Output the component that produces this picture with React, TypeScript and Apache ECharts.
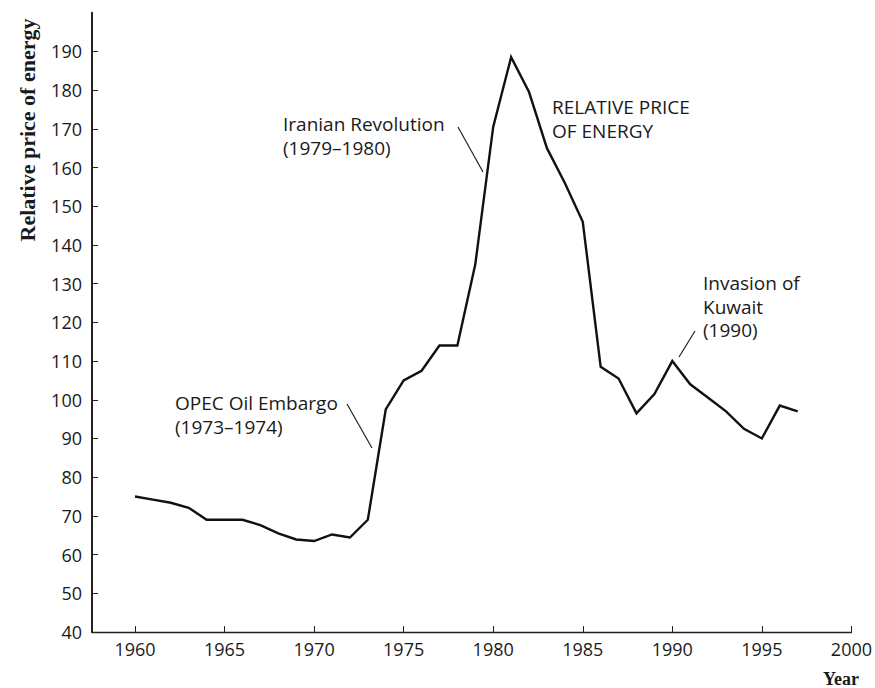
import React, { useEffect, useRef } from "react";
import * as echarts from "echarts";

const years = [1960,1961,1962,1963,1964,1965,1966,1967,1968,1969,1970,1971,1972,1973,1974,1975,1976,1977,1978,1979,1980,1981,1982,1983,1984,1985,1986,1987,1988,1989,1990,1991,1992,1993,1994,1995,1996,1997];
const prices = [75,74.2,73.4,72.1,69,69,69,67.6,65.5,63.9,63.5,65.2,64.4,69,97.5,105,107.5,114,114,135,170.5,188.5,179.5,165,156,146,108.5,105.5,96.5,101.5,110,104,100.5,97,92.5,90,98.5,97];
const xTicks = [1960,1965,1970,1975,1980,1985,1990,1995,2000];
const yTicks = [40,50,60,70,80,90,100,110,120,130,140,150,160,170,180,190];
const yAxisTitle = "Relative price of energy";
const xAxisTitle = "Year";
const annotations = [
  { lines: ["OPEC Oil Embargo", "(1973\u20131974)"] },
  { lines: ["Iranian Revolution", "(1979\u20131980)"] },
  { lines: ["RELATIVE PRICE", "OF ENERGY"] },
  { lines: ["Invasion of", "Kuwait", "(1990)"] },
];

const SANS = "'Open Sans', 'Noto Sans', sans-serif";
const SERIF = "'Liberation Serif', 'DejaVu Serif', serif";

export default function App() {
  const ref = useRef<HTMLDivElement>(null);
  useEffect(() => {
    if (!ref.current) return;
    const chart = echarts.init(ref.current, undefined, { renderer: "svg" });
    const textColor = "#1a1a1a";
    const annPos = [
      { x: 175, y: 403 },
      { x: 283, y: 124 },
      { x: 552, y: 107 },
      { x: 703, y: 283 },
    ];
    const lh = 23.5;
    const graphics: any[] = [];
    annotations.forEach((a, i) => {
      a.lines.forEach((t, j) => {
        graphics.push({
          type: "text",
          x: annPos[i].x,
          y: annPos[i].y + j * lh,
          style: {
            text: t,
            fill: textColor,
            font: `19px ${SANS}`,
            textAlign: "left",
            textVerticalAlign: "middle",
          },
        });
      });
    });
    const leaders = [
      [347, 404, 372, 448],
      [458, 127, 483, 172],
      [695, 331, 679, 357],
    ];
    leaders.forEach((l) => {
      graphics.push({
        type: "line",
        shape: { x1: l[0], y1: l[1], x2: l[2], y2: l[3] },
        style: { stroke: "#222", lineWidth: 1.2 },
      });
    });
    graphics.push({
      type: "text",
      x: 27,
      y: 130,
      rotation: Math.PI / 2,
      style: {
        text: yAxisTitle,
        fill: textColor,
        font: `bold 22px ${SERIF}`,
        textAlign: "center",
        textVerticalAlign: "middle",
      },
    });
    graphics.push({
      type: "text",
      x: 841,
      y: 679,
      style: {
        text: xAxisTitle,
        fill: textColor,
        font: `bold 18px ${SERIF}`,
        textAlign: "center",
        textVerticalAlign: "middle",
      },
    });

    chart.setOption({
      animation: false,
      backgroundColor: "#ffffff",
      grid: { left: 92, right: 18, top: 12.7, bottom: 56, containLabel: false },
      xAxis: {
        type: "value",
        min: 1957.6,
        max: 2000,
        splitLine: { show: false },
        axisLine: { show: true, lineStyle: { color: "#222", width: 1.3 } },
        axisTick: {
          show: true,
          inside: true,
          length: 6,
          customValues: xTicks,
          lineStyle: { color: "#222", width: 1 },
        },
        axisLabel: {
          customValues: xTicks,
          color: textColor,
          fontFamily: SANS,
          fontSize: 18,
          margin: 8,
          formatter: (v: number) => String(v),
        },
      },
      yAxis: {
        type: "value",
        min: 40,
        max: 200,
        splitLine: { show: false },
        axisLine: { show: true, lineStyle: { color: "#222", width: 2 } },
        axisTick: {
          show: true,
          inside: true,
          length: 6,
          customValues: yTicks,
          lineStyle: { color: "#222", width: 1 },
        },
        axisLabel: {
          customValues: yTicks,
          color: textColor,
          fontFamily: SANS,
          fontSize: 18,
          margin: 10,
        },
      },
      series: [
        {
          type: "line",
          data: years.map((y, i) => [y, prices[i]]),
          showSymbol: false,
          symbol: "none",
          lineStyle: { color: "#111", width: 2.4, join: "miter" },
        },
      ],
      graphic: graphics,
    });
    return () => chart.dispose();
  }, []);
  return (
    <div
      ref={ref}
      style={{ position: "fixed", left: 0, top: 0, width: 875, height: 688, background: "#fff" }}
    />
  );
}
